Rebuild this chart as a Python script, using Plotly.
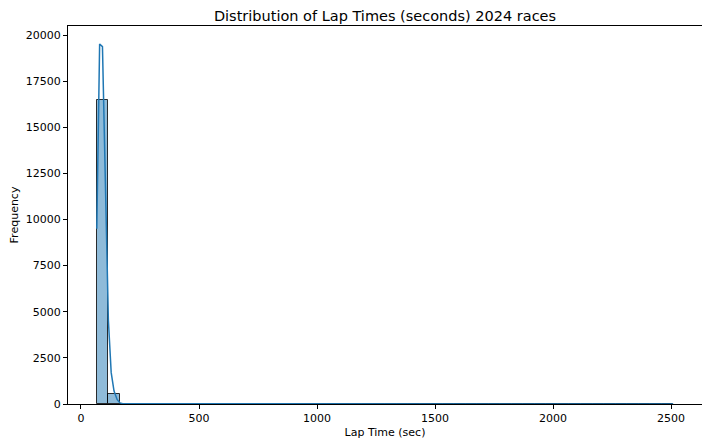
import numpy as np
import plotly.graph_objects as go

# Histogram data (50 bins between min and max lap time)
lap_min = 67.0
lap_max = 2509.0
n_bins = 50
bin_counts = [16480, 550, 14, 6, 3, 2, 2, 1, 1, 1,
              1, 1, 0, 1, 0, 0, 1, 0, 0, 0,
              1, 0, 0, 0, 0, 1, 0, 0, 0, 0,
              0, 0, 0, 0, 0, 0, 0, 0, 0, 0,
              0, 0, 0, 0, 0, 0, 0, 0, 0, 1]

# KDE curve
kde_x = [67, 79, 91, 104, 116, 128, 140, 153, 165, 177, 200, 300, 500, 1000, 1500, 2000, 2509]
kde_y = [9500, 19510, 19370, 12500, 4550, 1700, 700, 250, 60, 20, 12, 10, 8, 6, 5, 5, 5]

x_ticks = [0, 500, 1000, 1500, 2000, 2500]
y_ticks = [0, 2500, 5000, 7500, 10000, 12500, 15000, 17500, 20000]

edges = np.linspace(lap_min, lap_max, n_bins + 1)
centers = (edges[:-1] + edges[1:]) / 2
width = edges[1] - edges[0]

fig = go.Figure()
fig.add_trace(go.Bar(
    x=centers, y=bin_counts, width=width,
    marker=dict(color="rgba(31,119,180,0.5)",
                line=dict(color="rgba(0,0,0,0.8)", width=1)),
    showlegend=False,
))
fig.add_trace(go.Scatter(
    x=kde_x, y=kde_y, mode="lines",
    line=dict(color="#1f77b4", width=1.5),
    showlegend=False,
))

axis_common = dict(
    showline=True, linecolor="black", linewidth=1, mirror=True,
    ticks="outside", ticklen=4, tickcolor="black",
    showgrid=False, zeroline=False, automargin=False,
    tickfont=dict(family="DejaVu Sans", size=11, color="black"),
)

# page body has an 8px margin; compensate so the plot lands where the reference has it
W, H = 702, 439
fig.update_layout(
    width=W, height=H,
    margin=dict(l=60, r=8, t=18, b=43),
    paper_bgcolor="white", plot_bgcolor="white",
    bargap=0,
    title=dict(text="Distribution of Lap Times (seconds) 2024 races",
               x=(385 - 8) / W, xref="container", xanchor="center",
               y=1 - 8 / H, yref="container", yanchor="middle",
               font=dict(family="DejaVu Sans", size=14.5, color="black")),
    font=dict(family="DejaVu Sans", color="black"),
    xaxis=dict(range=[-55, 2631], tickvals=x_ticks,
               ticktext=[str(v) for v in x_ticks],
               title=dict(text="Lap Time (sec)", font=dict(size=11), standoff=4),
               **axis_common),
    yaxis=dict(range=[0, 20488], tickvals=y_ticks,
               ticktext=[str(v) for v in y_ticks],
               title=dict(text="Frequency", font=dict(size=11), standoff=6),
               **axis_common),
)

fig.write_html("out.html")
